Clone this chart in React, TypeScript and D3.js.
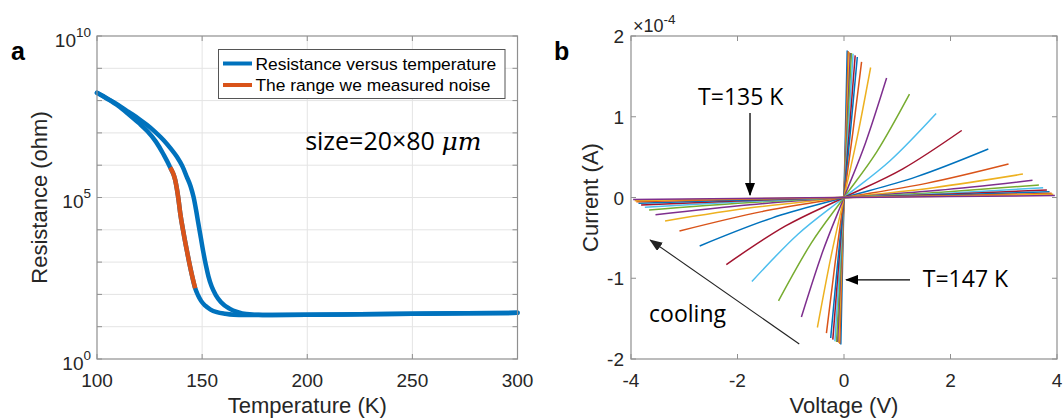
import React from 'react';
import * as d3 from 'd3';

const W = 1063;
const H = 419;

// ---------- Panel a: resistance vs temperature ----------
const TEMP_TICKS = [100, 150, 200, 250, 300];
const R_DECADES = [0, 1, 2, 3, 4, 5, 6, 7, 8, 9, 10];
const R_LABEL_EXPONENTS = [0, 5, 10];

// cooling branch (lower-temperature transition), log10(R / ohm)
const COOL_T = [100, 105, 110, 115, 120, 124, 128, 131.6, 134.8, 137.2, 138.8, 139.6, 141.2, 142.7, 144.8, 146.7, 148, 149.5, 151.5, 154, 157, 161, 165, 170, 180, 200, 225, 250, 275, 300];
const COOL_LOGR = [8.24, 8.05, 7.84, 7.58, 7.3, 7.05, 6.73, 6.34, 5.93, 5.54, 4.92, 4.51, 3.89, 3.37, 2.7, 2.19, 1.98, 1.8, 1.65, 1.53, 1.45, 1.4, 1.37, 1.36, 1.36, 1.37, 1.385, 1.4, 1.415, 1.43];

// heating branch (higher-temperature transition)
const HEAT_T = [100, 105, 110, 115, 120, 123.7, 127.5, 131.6, 135, 138, 140.5, 142.7, 144.5, 145.9, 147.1, 148.2, 149.4, 150.6, 151.8, 153, 154.5, 156.5, 159, 163, 167, 171, 176, 180, 200, 225, 250, 275, 300];
const HEAT_LOGR = [8.24, 8.06, 7.87, 7.65, 7.43, 7.25, 7.04, 6.78, 6.52, 6.26, 5.98, 5.64, 5.35, 5.02, 4.62, 4.2, 3.75, 3.3, 2.9, 2.56, 2.25, 1.98, 1.76, 1.56, 1.45, 1.39, 1.37, 1.36, 1.37, 1.385, 1.4, 1.415, 1.43];

// range where noise was measured
const NOISE_T = [134.8, 137.2, 138.8, 139.6, 141.2, 142.7, 144.8, 146.7];
const NOISE_LOGR = [5.93, 5.54, 4.92, 4.51, 3.89, 3.37, 2.7, 2.19];

const LEGEND_LABELS = ['Resistance versus temperature', 'The range we measured noise'];

// ---------- Panel b: I-V curves ----------
const V_TICKS = [-4, -2, 0, 2, 4];
const I_TICKS = [-2, -1, 0, 1, 2]; // in units of 1e-4 A

// each curve: end voltage (V), end current (1e-4 A), current at half of end voltage (1e-4 A)
const IV_VMAX = [0.06, 0.08, 0.1, 0.12, 0.14, 0.17, 0.21, 0.25, 0.33, 0.5, 0.8, 1.23, 1.73, 2.21, 2.71, 3.09, 3.36, 3.54, 3.66, 3.74, 3.81, 3.86, 3.9, 3.93, 3.96];
const IV_IMAX = [1.82, 1.81, 1.8, 1.79, 1.79, 1.78, 1.76, 1.74, 1.68, 1.61, 1.48, 1.28, 1.04, 0.83, 0.6, 0.415, 0.29, 0.213, 0.155, 0.121, 0.093, 0.072, 0.052, 0.04, 0.025];
const IV_IMID = [0.91, 0.905, 0.9, 0.895, 0.89, 0.88, 0.87, 0.85, 0.8, 0.75, 0.67, 0.565, 0.455, 0.355, 0.255, 0.175, 0.122, 0.09, 0.066, 0.051, 0.039, 0.03, 0.022, 0.017, 0.011];

const COLOR_ORDER = ['#0072BD', '#D95319', '#EDB120', '#7E2F8E', '#77AC30', '#4DBEEE', '#A2142F'];

const AXIS_FONT = '"Liberation Sans", Arial, Helvetica, sans-serif';
const NOTE_FONT = '"Open Sans", "Noto Sans", sans-serif';
const TEXT = '#262626';
const BOX = '#8f8f8f';
const GRID = '#e4e4e4';

const TICK_FS = 19;
const LABEL_FS = 22;
const NOTE_FS = 23;

export default function App() {
  // panel a scales
  const xA = d3.scaleLinear().domain([100, 300]).range([97, 517.5]);
  const yA = d3.scaleLog().domain([1, 1e10]).range([359, 36]);
  // panel b scales
  const xB = d3.scaleLinear().domain([-4, 4]).range([631, 1057]);
  const yB = d3.scaleLinear().domain([-2e-4, 2e-4]).range([359, 36]);

  const lineA = d3
    .line<[number, number]>()
    .x((d) => xA(d[0]))
    .y((d) => yA(Math.pow(10, d[1])))
    .curve(d3.curveMonotoneX);

  const lineB = d3
    .line<[number, number]>()
    .x((d) => xB(d[0]))
    .y((d) => yB(d[1] * 1e-4))
    .curve(d3.curveMonotoneX);

  const cool = COOL_T.map((t, i) => [t, COOL_LOGR[i]] as [number, number]);
  const heat = HEAT_T.map((t, i) => [t, HEAT_LOGR[i]] as [number, number]);
  const noise = NOISE_T.map((t, i) => [t, NOISE_LOGR[i]] as [number, number]);

  const ivCurves = IV_VMAX.map((v, i) => {
    const im = IV_IMAX[i];
    const imid = IV_IMID[i];
    const pts: [number, number][] = [
      [-v, -im],
      [-v / 2, -imid],
      [0, 0],
      [v / 2, imid],
      [v, im],
    ];
    return { d: lineB(pts) as string, color: COLOR_ORDER[i % COLOR_ORDER.length] };
  });

  const [ax0, ax1] = xA.range();
  const [ay0, ay1] = yA.range();
  const [bx0, bx1] = xB.range();
  const [by0, by1] = yB.range();
  const tickLen = 5;

  return (
    <svg
      width={W}
      height={H}
      style={{ position: 'absolute', left: 0, top: 0, background: '#fff' }}
      fontFamily={AXIS_FONT}
    >
      <defs>
        <marker id="arrowHead" markerUnits="userSpaceOnUse" markerWidth="13" markerHeight="10" refX="12" refY="5" orient="auto">
          <path d="M0,0 L13,5 L0,10 Z" fill="#000" />
        </marker>
        <marker id="arrowHeadGray" markerUnits="userSpaceOnUse" markerWidth="13" markerHeight="10" refX="12" refY="5" orient="auto">
          <path d="M0,0 L13,5 L0,10 Z" fill="#222" />
        </marker>
      </defs>
      <rect x={0} y={0} width={W} height={H} fill="#fff" />

      {/* ================= Panel a ================= */}
      <text x={11} y={60} fontSize={25} fontWeight="bold" fill="#000">a</text>

      {/* grid */}
      {TEMP_TICKS.slice(1, -1).map((t) => (
        <line key={'gx' + t} x1={xA(t)} x2={xA(t)} y1={ay1} y2={ay0} stroke={GRID} strokeWidth={1} />
      ))}
      {R_DECADES.slice(1, -1).map((e) => (
        <line key={'gy' + e} x1={ax0} x2={ax1} y1={yA(Math.pow(10, e))} y2={yA(Math.pow(10, e))} stroke={GRID} strokeWidth={1} />
      ))}

      {/* ticks */}
      {TEMP_TICKS.map((t) => (
        <g key={'tx' + t}>
          <line x1={xA(t)} x2={xA(t)} y1={ay0} y2={ay0 - tickLen} stroke={BOX} />
          <line x1={xA(t)} x2={xA(t)} y1={ay1} y2={ay1 + tickLen} stroke={BOX} />
          <text x={xA(t)} y={387} fontSize={TICK_FS} textAnchor="middle" fill={TEXT}>{t}</text>
        </g>
      ))}
      {R_DECADES.map((e) => (
        <g key={'ty' + e}>
          <line x1={ax0} x2={ax0 + tickLen} y1={yA(Math.pow(10, e))} y2={yA(Math.pow(10, e))} stroke={BOX} />
          <line x1={ax1} x2={ax1 - tickLen} y1={yA(Math.pow(10, e))} y2={yA(Math.pow(10, e))} stroke={BOX} />
        </g>
      ))}
      {R_LABEL_EXPONENTS.map((e) => (
        <text key={'ly' + e} x={91} y={yA(Math.pow(10, e)) + 10.5} fontSize={TICK_FS} textAnchor="end" fill={TEXT}>
          <tspan>10</tspan>
          <tspan dy={-10} fontSize={13.5}>{e}</tspan>
        </text>
      ))}

      {/* curves */}
      <path d={lineA(heat) as string} fill="none" stroke="#0072BD" strokeWidth={4.5} strokeLinejoin="round" strokeLinecap="round" />
      <path d={lineA(cool) as string} fill="none" stroke="#0072BD" strokeWidth={4.5} strokeLinejoin="round" strokeLinecap="round" />
      <path d={lineA(noise) as string} fill="none" stroke="#D95319" strokeWidth={4.5} strokeLinejoin="round" />

      {/* box */}
      <rect x={ax0} y={ay1} width={ax1 - ax0} height={ay0 - ay1} fill="none" stroke={BOX} strokeWidth={1.2} />

      {/* legend */}
      <rect x={218.5} y={49.5} width={286.5} height={49} fill="#fff" stroke="#555" strokeWidth={1} />
      {LEGEND_LABELS.map((lab, i) => (
        <g key={lab}>
          <line x1={223} x2={252} y1={63.5 + i * 21.5} y2={63.5 + i * 21.5} stroke={i === 0 ? '#0072BD' : '#D95319'} strokeWidth={4} />
          <text x={255.5} y={69.5 + i * 21.5} fontSize={17.4} fill="#000">{lab}</text>
        </g>
      ))}

      {/* annotation */}
      <text x={xA(199)} y={yA(Math.pow(10, 6.47))} fontSize={25} fontFamily={NOTE_FONT} fill="#000">
        <tspan>size=20×80 </tspan>
        <tspan fontFamily='"DejaVu Serif", "Liberation Serif", serif' fontStyle="italic">μm</tspan>
      </text>

      {/* axis labels */}
      <text x={(ax0 + ax1) / 2} y={413} fontSize={LABEL_FS} textAnchor="middle" fill={TEXT}>Temperature (K)</text>
      <text transform={`translate(47,${(ay0 + ay1) / 2}) rotate(-90)`} fontSize={LABEL_FS} textAnchor="middle" fill={TEXT}>Resistance (ohm)</text>

      {/* ================= Panel b ================= */}
      <text x={554} y={60} fontSize={25} fontWeight="bold" fill="#000">b</text>

      {V_TICKS.map((v) => (
        <g key={'vx' + v}>
          <line x1={xB(v)} x2={xB(v)} y1={by0} y2={by0 - tickLen} stroke={BOX} />
          <line x1={xB(v)} x2={xB(v)} y1={by1} y2={by1 + tickLen} stroke={BOX} />
          <text x={xB(v)} y={387} fontSize={TICK_FS} textAnchor="middle" fill={TEXT}>{v}</text>
        </g>
      ))}
      {I_TICKS.map((c) => (
        <g key={'iy' + c}>
          <line x1={bx0} x2={bx0 + tickLen} y1={yB(c * 1e-4)} y2={yB(c * 1e-4)} stroke={BOX} />
          <line x1={bx1} x2={bx1 - tickLen} y1={yB(c * 1e-4)} y2={yB(c * 1e-4)} stroke={BOX} />
          <text x={624} y={yB(c * 1e-4) + 7} fontSize={TICK_FS} textAnchor="end" fill={TEXT}>{c}</text>
        </g>
      ))}
      <text x={633} y={32} fontSize={18} fill={TEXT}>
        <tspan>×10</tspan>
        <tspan dy={-8} fontSize={13.5}>-4</tspan>
      </text>

      {ivCurves.map((c, i) => (
        <path key={'iv' + i} d={c.d} fill="none" stroke={c.color} strokeWidth={1.5} />
      ))}

      <rect x={bx0} y={by1} width={bx1 - bx0} height={by0 - by1} fill="none" stroke={BOX} strokeWidth={1.2} />

      {/* annotations */}
      <text x={xB(-2.74)} y={yB(1.145e-4)} fontSize={NOTE_FS} fontFamily={NOTE_FONT} fill="#000">T=135 K</text>
      <line x1={xB(-1.765)} y1={yB(1.046e-4)} x2={xB(-1.765)} y2={yB(0.03e-4)} stroke="#000" strokeWidth={1.3} markerEnd="url(#arrowHead)" />

      <text x={xB(1.48)} y={yB(-1.108e-4)} fontSize={NOTE_FS} fontFamily={NOTE_FONT} fill="#000">T=147 K</text>
      <line x1={xB(1.24)} y1={yB(-1.02e-4)} x2={xB(0.04)} y2={yB(-1.02e-4)} stroke="#000" strokeWidth={1.3} markerEnd="url(#arrowHead)" />

      <text x={xB(-3.66)} y={yB(-1.536e-4)} fontSize={NOTE_FS} fontFamily={NOTE_FONT} fill="#000">cooling</text>
      <line x1={xB(-0.84)} y1={yB(-1.814e-4)} x2={xB(-3.64)} y2={yB(-0.526e-4)} stroke="#222" strokeWidth={1.1} markerEnd="url(#arrowHeadGray)" />

      <text x={(bx0 + bx1) / 2} y={413} fontSize={LABEL_FS} textAnchor="middle" fill={TEXT}>Voltage (V)</text>
      <text transform={`translate(598,${(by0 + by1) / 2}) rotate(-90)`} fontSize={LABEL_FS} textAnchor="middle" fill={TEXT}>Current (A)</text>
    </svg>
  );
}
